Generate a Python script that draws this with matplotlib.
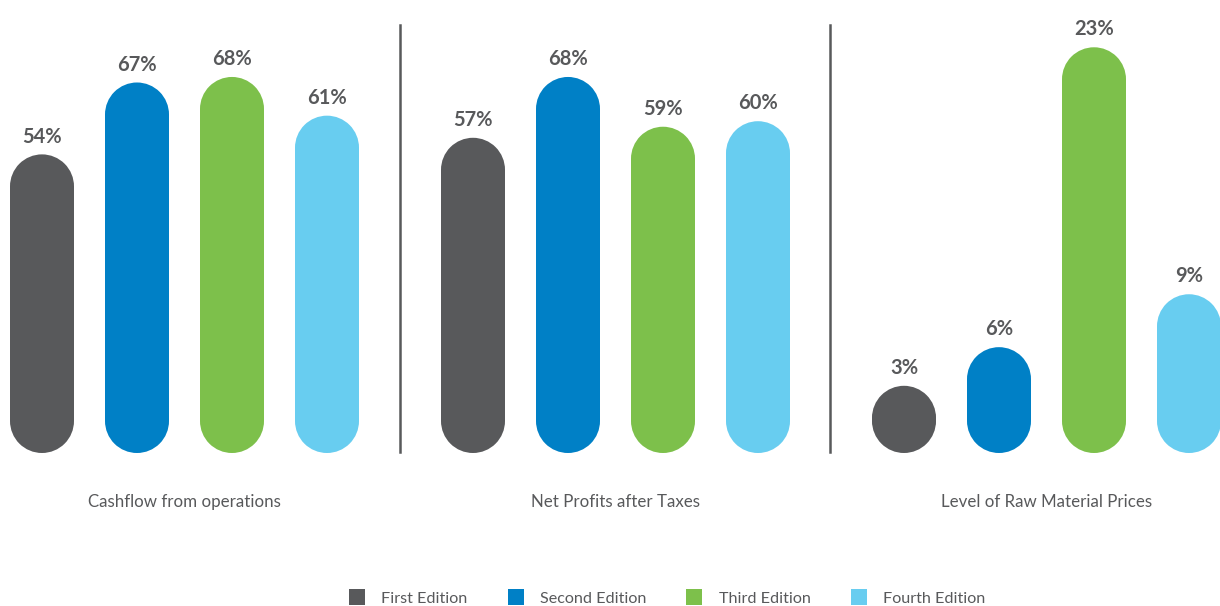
import matplotlib
matplotlib.use("Agg")
import matplotlib.pyplot as plt
from matplotlib.lines import Line2D
from matplotlib.patches import Ellipse, Rectangle

plt.rcParams["font.family"] = ["Lato", "DejaVu Sans"]

# ---- Data ----------------------------------------------------------------
editions = ["First Edition", "Second Edition", "Third Edition", "Fourth Edition"]
colors   = ["#58595b", "#0080c6", "#7dc04b", "#68cdf0"]

categories = ["Cashflow from operations", "Net Profits after Taxes",
              "Level of Raw Material Prices"]
cashflow   = [54, 67, 68, 61]
net_profit = [57, 68, 59, 60]
raw_prices = [3, 6, 23, 9]
groups     = [cashflow, net_profit, raw_prices]

# pixels per percentage point: the first two panels share a scale
px_per_pct = [5.53, 5.53, 17.64]

TEXT = "#58595b"
W, H, DPI = 1220, 606, 100
BASE_PX  = 453          # bar baseline, px from top
STEP_PX  = 95           # distance between bar centres
BAR_PX   = 64           # bar width
FIRST_PX = [42, 473, 904]
X_PAD    = 0.45

fig = plt.figure(figsize=(W / DPI, H / DPI), dpi=DPI)

for i, (vals, cat) in enumerate(zip(groups, categories)):
    left = FIRST_PX[i] - X_PAD * STEP_PX
    ax = fig.add_axes([left / W, (H - BASE_PX) / H, 4 * STEP_PX / W, BASE_PX / H])
    ax.set_xlim(-X_PAD, 4 - X_PAD)
    ax.set_ylim(0, BASE_PX / px_per_pct[i])
    ax.axis("off")

    w = BAR_PX / STEP_PX                 # bar width in x units
    r_y = (BAR_PX / 2) / px_per_pct[i]   # cap radius in y units
    for x, v, c in zip(range(len(vals)), vals, colors):
        top = max(v, 2.1 * r_y)
        # pill shape: straight body plus round caps at both ends
        ax.add_patch(Rectangle((x - w / 2, r_y), w, top - 2 * r_y, color=c, lw=0))
        ax.add_patch(Ellipse((x, r_y), w, 2 * r_y, color=c, lw=0))
        ax.add_patch(Ellipse((x, top - r_y), w, 2 * r_y, color=c, lw=0))
        ax.annotate(f"{v}%", (x, top), xytext=(0, 8.5), textcoords="offset points",
                    ha="center", va="baseline", fontsize=14.5, fontweight="bold",
                    color=TEXT, annotation_clip=False)

    ax.annotate(cat, (1.5, 0), xytext=(0, -35), textcoords="offset points",
                ha="center", va="center", fontsize=12.2, color=TEXT,
                annotation_clip=False)

# separators between the panels
for xpx in (400, 830):
    fig.add_artist(Line2D([xpx / W, xpx / W], [(H - 452) / H, (H - 25) / H],
                          color="#58595b", lw=1.8))

handles = [Line2D([], [], marker="s", ls="", markersize=12.2, color=c, mew=0)
           for c in colors]
fig.legend(handles, editions, loc="center", bbox_to_anchor=(667 / W, 7.5 / H),
           ncol=4, frameon=False, fontsize=11.6, labelcolor=TEXT,
           handlelength=1.05, handletextpad=1.0, columnspacing=2.45)

fig.savefig("out.png", dpi=DPI, facecolor="white")
